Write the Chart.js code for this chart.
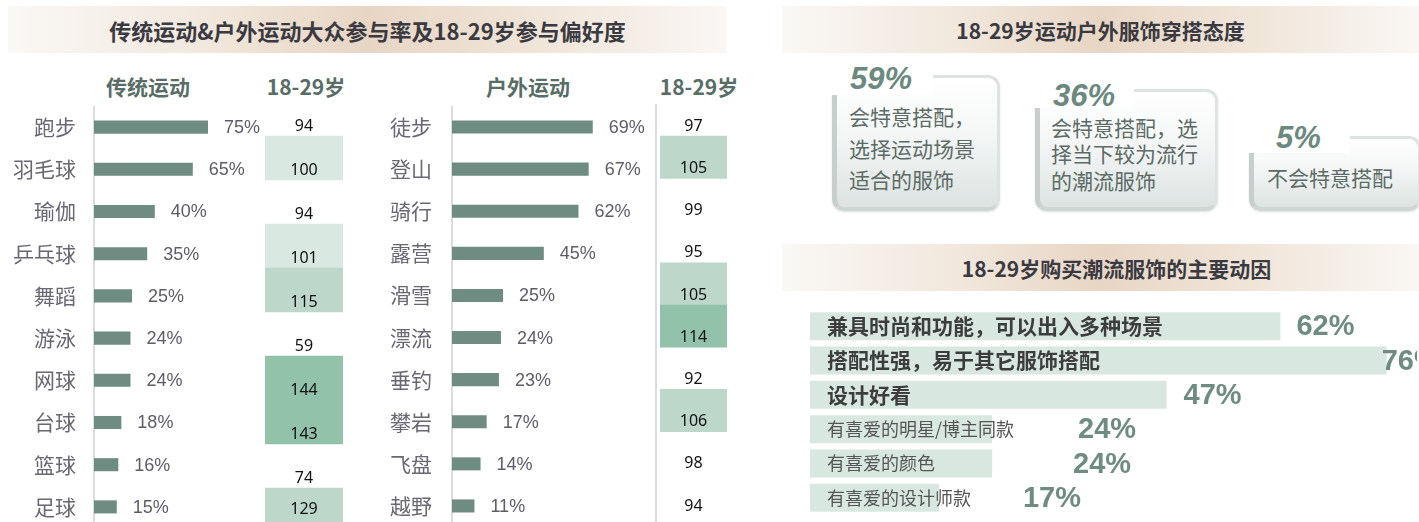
<!DOCTYPE html>
<html><head><meta charset="utf-8">
<script src="https://cdn.jsdelivr.net/npm/chart.js@4.4.0/dist/chart.umd.min.js"></script>
<style>
html,body{margin:0;padding:0;background:#fff;}
#root{position:relative;width:1419px;height:522px;overflow:hidden;font-family:'Noto Sans CJK SC','Noto Sans',sans-serif;}
.banner{position:absolute;height:47px;display:flex;align-items:center;justify-content:center;font-weight:bold;color:#3a3a42;white-space:nowrap;
background:linear-gradient(to right,#faf8f5 0%,#f1e7dc 28%,#e8d6c4 50%,#f0e5d9 74%,#faf7f4 100%);}
.hdr{position:absolute;font-weight:bold;font-size:21px;color:#586d65;line-height:21px;transform:translateX(-50%);white-space:nowrap;}
canvas{position:absolute;}
.vline{position:absolute;width:2px;background:#dcdce3;}
.card{position:absolute;box-sizing:border-box;border-radius:12px;border:3px solid #dde3e1;border-left:5px solid #c6cfcc;border-bottom:4px solid #cfd7d4;
background:linear-gradient(180deg,#ffffff 0%,#f4f6f6 45%,#dce3e1 100%);box-shadow:0 1px 2px rgba(120,140,130,0.25);}
.pctbox{position:absolute;background:#fff;}
.pct{position:absolute;font-family:'Liberation Sans',Arial,sans-serif;font-weight:bold;font-style:italic;font-size:31px;line-height:31px;color:#6b897e;white-space:nowrap;}
.ctext{position:absolute;font-size:21px;color:#5c6b66;white-space:nowrap;}
</style></head>
<body><div id="root">
<div class="banner" style="left:8px;top:6px;width:719px;font-size:22px;">传统运动&amp;户外运动大众参与率及18-29岁参与偏好度</div>
<div class="banner" style="left:782px;top:6px;width:637px;font-size:21px;">18-29岁运动户外服饰穿搭态度</div>
<div class="banner" style="left:782px;top:244px;width:637px;font-size:21px;padding-left:32px;box-sizing:border-box;">18-29岁购买潮流服饰的主要动因</div>

<div class="hdr" style="left:148px;top:76px;">传统运动</div>
<div class="hdr" style="left:306px;top:76px;">18-29岁</div>
<div class="hdr" style="left:528px;top:76px;">户外运动</div>
<div class="hdr" style="left:699px;top:76px;">18-29岁</div>

<div class="vline" style="left:655px;top:104px;height:420px;"></div>

<canvas id="tradBars" width="306" height="422" style="left:0px;top:106px;"></canvas>
<canvas id="tradPref" width="78" height="440" style="left:265px;top:92px;"></canvas>
<canvas id="outBars" width="346" height="421" style="left:370px;top:106px;"></canvas>
<canvas id="outPref" width="67" height="422" style="left:660px;top:94px;"></canvas>
<canvas id="motive" width="607" height="206" style="left:810px;top:309px;"></canvas>
<div id="cards"></div>
</div>
<script>
// ---------- data ----------
const tradCategories = ['跑步','羽毛球','瑜伽','乒乓球','舞蹈','游泳','网球','台球','篮球','足球'];
const tradRates = [75,65,40,35,25,24,24,18,16,15];
const tradYouthIndex = [94,100,94,101,115,59,144,143,74,129];

const outdoorCategories = ['徒步','登山','骑行','露营','滑雪','漂流','垂钓','攀岩','飞盘','越野'];
const outdoorRates = [69,67,62,45,25,24,23,17,14,11];
const outdoorYouthIndex = [97,105,99,95,105,114,92,106,98,94];

const attitudeValues = [59,36,5];
const attitudeLines = [
  ['会特意搭配，','选择运动场景','适合的服饰'],
  ['会特意搭配，选','择当下较为流行','的潮流服饰'],
  ['不会特意搭配']
];

const motiveLabels = ['兼具时尚和功能，可以出入多种场景','搭配性强，易于其它服饰搭配','设计好看','有喜爱的明星/博主同款','有喜爱的颜色','有喜爱的设计师款'];
const motiveValues = [62,76,47,24,24,17];

// ---------- styles / layout ----------
const BAR_COLOR = '#6e8c82';
const CJK = "'Noto Sans CJK SC','Noto Sans',sans-serif";
const LAT = "'Liberation Sans',Arial,sans-serif";
const cardLayout = [
  {x:832,y:75,w:168,h:136, bx:828,by:58,bw:105,bh:37, px:850,pcy:78, tx:849,tc:117,lh:31.5},
  {x:1035,y:89,w:183,h:122, bx:1031,by:72,bw:103,bh:36, px:1053,pcy:95, tx:1051,tc:127,lh:26.5},
  {x:1249,y:136,w:172,h:75, bx:1245,by:115,bw:105,bh:38, px:1276,pcy:137, tx:1267,tc:177,lh:26}
];
const motivePctDx = [16,-5,17,86,81,84];

function tradCellColor(v){ if(v>=140) return '#92c2aa'; if(v>=105) return '#bdd8ca'; if(v>=100) return '#d9e9e1'; return 'rgba(0,0,0,0)'; }
function outCellColor(v){ if(v>=110) return '#92c2aa'; if(v>=104) return '#bdd8ca'; return 'rgba(0,0,0,0)'; }

// ---------- cards ----------
const cardsEl = document.getElementById('cards');
attitudeValues.forEach((v,i)=>{
  const L = cardLayout[i];
  const c = document.createElement('div'); c.className='card';
  Object.assign(c.style,{left:L.x+'px',top:L.y+'px',width:L.w+'px',height:L.h+'px'});
  cardsEl.appendChild(c);
  const b = document.createElement('div'); b.className='pctbox';
  Object.assign(b.style,{left:L.bx+'px',top:L.by+'px',width:L.bw+'px',height:L.bh+'px'});
  cardsEl.appendChild(b);
  const p = document.createElement('div'); p.className='pct'; p.textContent = v+'%';
  Object.assign(p.style,{left:L.px+'px',top:(L.pcy-15.5)+'px'});
  cardsEl.appendChild(p);
  attitudeLines[i].forEach((line,j)=>{
    const t = document.createElement('div'); t.className='ctext'; t.textContent=line;
    Object.assign(t.style,{left:L.tx+'px',top:(L.tc + j*L.lh - L.lh/2)+'px',lineHeight:L.lh+'px'});
    cardsEl.appendChild(t);
  });
});

// ---------- charts ----------
Chart.defaults.font.family = CJK;

function rateLabels(){
  return {id:'rateLabels', afterDatasetsDraw(chart){
    const ctx=chart.ctx; const meta=chart.getDatasetMeta(0); const ds=chart.data.datasets[0].data;
    ctx.save(); ctx.font="18px "+LAT; ctx.fillStyle='#5d5d68'; ctx.textBaseline='middle'; ctx.textAlign='left';
    meta.data.forEach((bar,i)=>{ ctx.fillText(ds[i]+'%', bar.x+16, bar.y+1); });
    ctx.restore();
  }};
}

function barChart(id, labels, values, axisWidth, pad){
  return new Chart(document.getElementById(id), {
    type:'bar',
    data:{labels:labels, datasets:[{data:values, backgroundColor:BAR_COLOR, borderWidth:0, barPercentage:0.31, categoryPercentage:1}]},
    options:{
      indexAxis:'y', responsive:false, animation:false, devicePixelRatio:1,
      layout:{padding:{left:0,right:60,top:0,bottom:0}},
      plugins:{legend:{display:false}, tooltip:{enabled:false}},
      scales:{
        x:{display:false, min:0, max:100},
        y:{grid:{display:false, drawTicks:false}, border:{display:true,color:'#dadae2',width:2},
           ticks:{font:{size:21,family:CJK}, color:'#686874', padding:pad},
           afterFit(s){ s.width = axisWidth; s.paddingTop = 0; s.paddingBottom = 0; }}
      }
    },
    plugins:[rateLabels()]
  });
}

barChart('tradBars', tradCategories, tradRates, 94, 18);
barChart('outBars', outdoorCategories, outdoorRates, 82, 20);

function prefChart(id, labels, values, colorFn, clampY){
  return new Chart(document.getElementById(id), {
    type:'bar',
    data:{labels:labels, datasets:[{data:values.map(()=>1), backgroundColor:values.map(colorFn), borderWidth:0, barPercentage:1, categoryPercentage:1}]},
    options:{
      indexAxis:'y', responsive:false, animation:false, devicePixelRatio:1,
      plugins:{legend:{display:false}, tooltip:{enabled:false}},
      scales:{ x:{display:false,min:0,max:1}, y:{display:false} }
    },
    plugins:[{id:'cellText', afterDatasetsDraw(chart){
      const ctx=chart.ctx; const meta=chart.getDatasetMeta(0);
      ctx.save(); ctx.font="16px 'Noto Sans','Open Sans',sans-serif"; ctx.fillStyle='#111'; ctx.textAlign='center'; ctx.textBaseline='middle';
      meta.data.forEach((bar,i)=>{
        let y = bar.y + bar.height/2 - 10;
        if (clampY && y > clampY) y = clampY;
        ctx.fillText(String(values[i]), (bar.x+bar.base)/2, y);
      });
      ctx.restore();
    }}]
  });
}
prefChart('tradPref', tradCategories, tradYouthIndex, tradCellColor, 417);
prefChart('outPref', outdoorCategories, outdoorYouthIndex, outCellColor, null);

new Chart(document.getElementById('motive'), {
  type:'bar',
  data:{labels:motiveLabels, datasets:[{data:motiveValues, backgroundColor:'#d8e8e0', borderWidth:0, barPercentage:0.815, categoryPercentage:1}]},
  options:{
    indexAxis:'y', responsive:false, animation:false, devicePixelRatio:1,
    plugins:{legend:{display:false}, tooltip:{enabled:false}},
    scales:{ x:{display:false,min:0,max:80}, y:{display:false} }
  },
  plugins:[{id:'motiveText', afterDatasetsDraw(chart){
    const ctx=chart.ctx; const meta=chart.getDatasetMeta(0); const left=chart.chartArea.left;
    ctx.save(); ctx.textBaseline='middle'; ctx.textAlign='left';
    meta.data.forEach((bar,i)=>{
      if(i<3){ ctx.font="bold 21px "+CJK; ctx.fillStyle='#3d3d3d'; }
      else { ctx.font="18px "+CJK; ctx.fillStyle='#555555'; }
      ctx.fillText(motiveLabels[i], left+17, bar.y);
      ctx.font="bold 29px "+LAT; ctx.fillStyle='#6e8c82';
      ctx.fillText(motiveValues[i]+'%', bar.x+motivePctDx[i], bar.y+1);
    });
    ctx.restore();
  }}]
});
</script>
</body></html>
